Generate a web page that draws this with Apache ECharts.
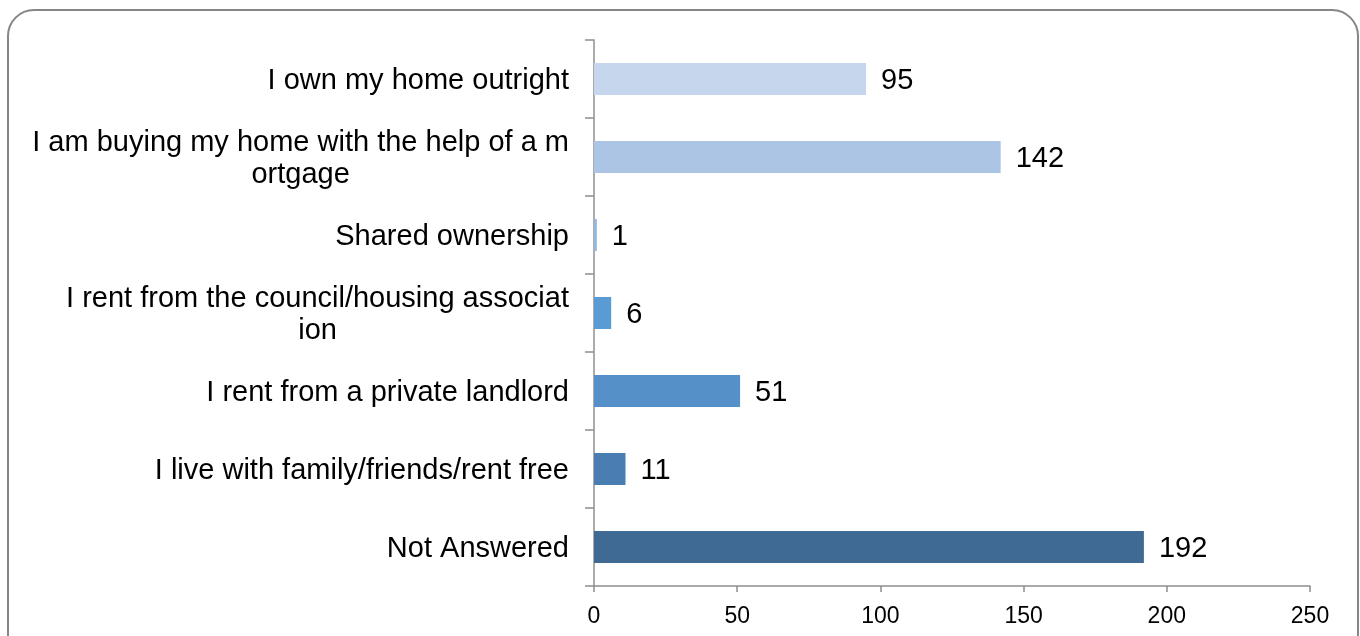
<!DOCTYPE html>
<html>
<head>
<meta charset="utf-8">
<title>Housing tenure</title>
<script src="https://cdn.jsdelivr.net/npm/echarts@6/dist/echarts.min.js"></script>
<style>
  html, body { margin: 0; padding: 0; background: #fff; }
  #chart { width: 1360px; height: 636px; }
</style>
</head>
<body>
<div id="chart"></div>
<script>
// Survey responses on housing tenure (line breaks kept as printed)
const categories = [
  'I own my home outright',
  'I am buying my home with the help of a m\nortgage',
  'Shared ownership',
  'I rent from the council/housing associat\nion',
  'I rent from a private landlord',
  'I live with family/friends/rent free',
  'Not Answered'
];
const counts = [95, 142, 1, 6, 51, 11, 192];
const barColors = ['#c6d7ed', '#adc5e5', '#94b8e0', '#5b9bd5', '#5591c8', '#4a7eb3', '#3f6a94'];
const xTicks = { min: 0, max: 250, step: 50 };

const FONT = 'Liberation Sans, Arial, sans-serif';
const axisGray = '#8f8f8f';

const chart = echarts.init(document.getElementById('chart'), null, { renderer: 'canvas' });

chart.setOption({
  animation: false,
  backgroundColor: '#ffffff',
  graphic: [{
    type: 'rect',
    z: -10,
    shape: { x: 8, y: 10, width: 1350, height: 700, r: 26 },
    style: { fill: 'none', stroke: '#868686', lineWidth: 2 },
    silent: true
  }],
  grid: { left: 594, right: 50, top: 40, bottom: 50, containLabel: false },
  xAxis: {
    type: 'value',
    min: xTicks.min,
    max: xTicks.max,
    interval: xTicks.step,
    splitLine: { show: false },
    axisLine: { show: true, lineStyle: { color: axisGray, width: 1.5 } },
    axisTick: { show: true, length: 6, lineStyle: { color: axisGray, width: 1.5 } },
    axisLabel: { color: '#000', fontFamily: FONT, fontSize: 23, margin: 19 }
  },
  yAxis: {
    type: 'category',
    inverse: true,
    data: categories,
    axisLine: { show: true, lineStyle: { color: axisGray, width: 1.5 } },
    axisTick: { show: true, length: 9, alignWithLabel: false, lineStyle: { color: axisGray, width: 1.5 } },
    axisLabel: {
      color: '#000',
      fontFamily: FONT,
      fontSize: 29,
      lineHeight: 32,
      margin: 25,
      padding: [4, 0, 0, 0],
      formatter: function (v) {
        return v.split('\n').map(function (l) { return '{c|' + l + '}'; }).join('\n');
      },
      rich: {
        c: { align: 'center', color: '#000', fontFamily: FONT, fontSize: 29, lineHeight: 32 }
      }
    }
  },
  series: [{
    type: 'bar',
    barWidth: 32,
    data: counts.map(function (v, i) {
      return { value: v, itemStyle: { color: barColors[i] } };
    }),
    label: {
      show: true,
      position: 'right',
      distance: 15,
      offset: [0, 2],
      color: '#000',
      fontFamily: FONT,
      fontSize: 29
    }
  }]
});
</script>
</body>
</html>
